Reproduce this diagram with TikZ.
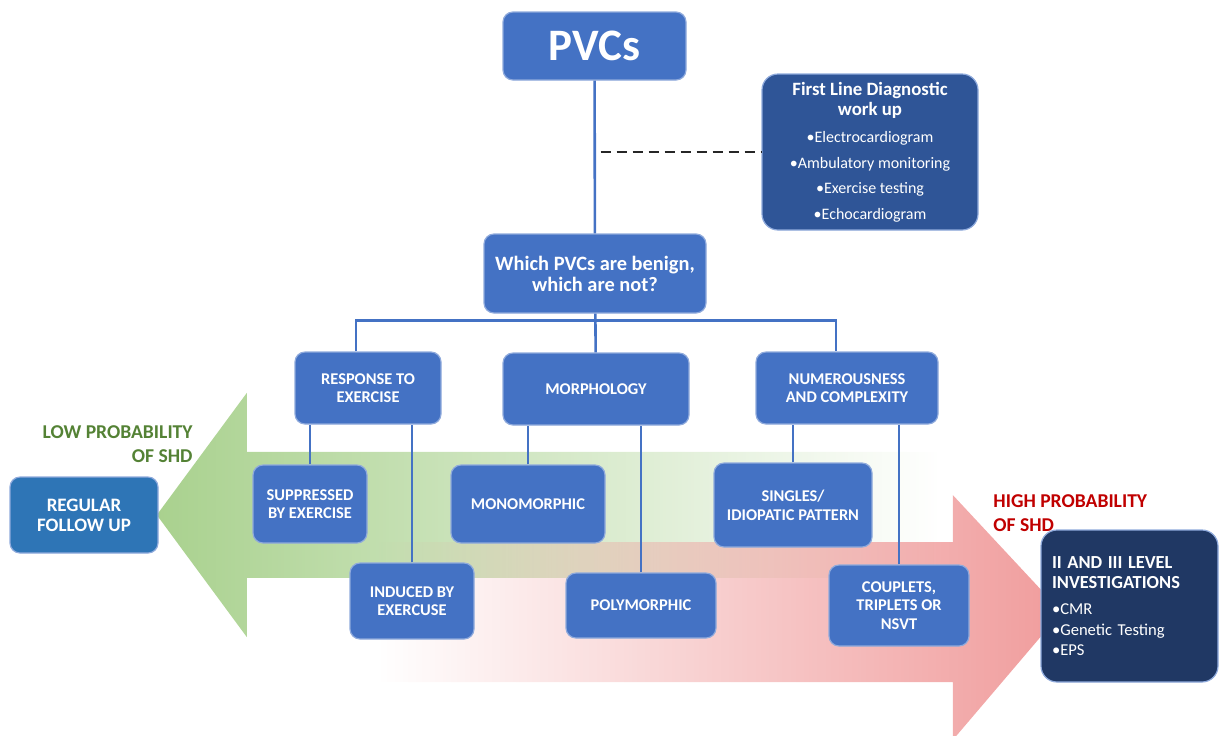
\documentclass[tikz,border=0pt]{standalone}
\usepackage{fontspec}
\setmainfont{Carlito}
\usetikzlibrary{fadings}

\definecolor{boxblue}{HTML}{4472C4}
\definecolor{boxedge}{HTML}{8FAADC}
\definecolor{firstblue}{HTML}{2F5597}
\definecolor{navybox}{HTML}{203864}
\definecolor{followblue}{HTML}{2E75B6}
\definecolor{lowgreen}{HTML}{A9D18E}
\definecolor{lowtext}{HTML}{548235}
\definecolor{highpink}{HTML}{F09C9C}
\definecolor{hightext}{HTML}{C00000}

\newcommand{\headfont}{\bfseries\fontsize{9.4}{10}\selectfont}

\tikzset{
	pbox/.style={rectangle, rounded corners=5pt, fill=boxblue, draw=boxedge, line width=0.6pt, text=white, align=center, inner sep=0pt, font=\bfseries\fontsize{8.2}{9.3}\selectfont},
	link/.style={draw=boxblue, line width=1.3pt},
	problabel/.style={font=\bfseries\fontsize{9.8}{12.3}\selectfont, inner sep=0pt}
}

\begin{document}
\begin{tikzpicture}[x=0.5pt,y=-0.5pt]
	\useasboundingbox (0,0) rectangle (1220,735);
	% big arrows behind
	\fill[lowgreen, path fading=east] (157,515) -- (247,393) -- (247,452) -- (940,452) -- (940,578) -- (247,578) -- (247,637) -- cycle;
	\fill[highpink, path fading=west] (1062,612) -- (953,495) -- (953,542) -- (378,542) -- (378,682) -- (953,682) -- (953,740) -- cycle;

	\node[pbox, minimum width=91.5pt, minimum height=34pt, font=\bfseries\fontsize{22.5}{24}\selectfont] (pvcs) at (594.5,46) {PVCs};
	\node[pbox, fill=firstblue, rounded corners=8pt, minimum width=108pt, minimum height=78pt, font=\fontsize{8}{12.8}\selectfont] (first) at (870,152)
		{\headfont First Line Diagnostic\\[-2.8pt]\headfont work up\\[0.8pt]•Electrocardiogram\\•Ambulatory monitoring\\•Exercise testing\\•Echocardiogram};
	\node[pbox, minimum width=111pt, minimum height=39.5pt, font=\bfseries\fontsize{10.2}{10.5}\selectfont] (which) at (595,273.5) {Which PVCs are benign,\\which are not?};

	\node[pbox, minimum width=73pt, minimum height=36pt] (resp) at (368,388) {RESPONSE TO\\EXERCISE};
	\node[pbox, minimum width=93pt, minimum height=36pt] (morph) at (596,389) {MORPHOLOGY};
	\node[pbox, minimum width=91pt, minimum height=36pt] (numer) at (847,388) {NUMEROUSNESS\\AND COMPLEXITY};

	\node[pbox, minimum width=57pt, minimum height=39pt] (supp) at (310,504) {SUPPRESSED\\BY EXERCISE};
	\node[pbox, minimum width=62pt, minimum height=38pt] (induced) at (412,601) {INDUCED BY\\EXERCUSE};
	\node[pbox, minimum width=77pt, minimum height=39pt] (mono) at (528,504) {MONOMORPHIC};
	\node[pbox, minimum width=75pt, minimum height=32.5pt] (poly) at (641,605.5) {POLYMORPHIC};
	\node[pbox, minimum width=79pt, minimum height=42pt] (singles) at (793,505) {SINGLES/\\IDIOPATIC PATTERN};
	\node[pbox, minimum width=70pt, minimum height=40.5pt] (couplets) at (899,605.5) {COUPLETS,\\TRIPLETS OR\\NSVT};

	\node[pbox, fill=followblue, minimum width=74pt, minimum height=38pt, font=\bfseries\fontsize{9.5}{10}\selectfont] (regular) at (84,515) {REGULAR\\FOLLOW UP};
	\node[pbox, fill=navybox, rounded corners=8pt, align=left, text width=77.5pt, inner xsep=5.5pt, minimum height=76pt, font=\fontsize{8.3}{10.3}\selectfont] (level) at (1129.5,606)
		{\bfseries\fontsize{9.2}{10}\selectfont II AND III LEVEL\\INVESTIGATIONS\\[3pt]\mdseries\fontsize{8.3}{10.3}\selectfont •CMR\\•Genetic Testing\\•EPS};

	\node[problabel, text=lowtext, align=right, anchor=east] (low) at (193,444) {LOW PROBABILITY\\OF SHD};
	\node[problabel, text=hightext, align=left, anchor=west] (high) at (993,513) {HIGH PROBABILITY\\OF SHD};

	% tree lines
	\draw[link] (pvcs) -- (which);
	\draw[dashed, dash pattern=on 5pt off 3pt, line width=1.4pt, black!85] ([xshift=3pt]pvcs.south |- first.west) -- (first.west);
	\draw[link] (which) -- (morph);
	\draw[link] ([xshift=-6pt]resp.north) -- ++(0,-31) -| ([xshift=-5.5pt]numer.north);
	\draw[link] (supp.north) -- (supp.north |- resp.south);
	\draw[link] (induced.north) -- (induced.north |- resp.south);
	\draw[link] (mono.north) -- (mono.north |- morph.south);
	\draw[link] (poly.north) -- (poly.north |- morph.south);
	\draw[link] (singles.north) -- (singles.north |- numer.south);
	\draw[link] (couplets.north) -- (couplets.north |- numer.south);
\end{tikzpicture}
\end{document}
